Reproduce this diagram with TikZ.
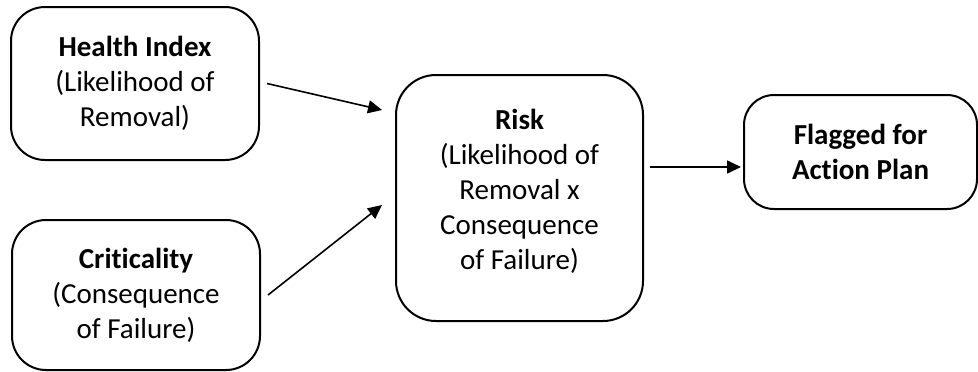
\documentclass[tikz,border=0pt]{standalone}
\usepackage{fontspec}
\setmainfont[Ligatures=NoCommon]{Carlito}
\usetikzlibrary{arrows.meta}

\tikzset{
  box/.style={draw, line width=1pt, rounded corners=17pt, align=center,
    inner sep=0pt, font=\fontsize{14.5}{17.5}\selectfont},
  flow/.style={-{Triangle[length=7pt,width=6.5pt]}, line width=0.8pt}
}

\begin{document}
\begin{tikzpicture}[x=0.5pt, y=-0.5pt]
	\useasboundingbox (0,0) rectangle (978,371);

	% inputs
	\node[box, minimum width=124pt, minimum height=76.5pt] (health) at (135,83.5)
		{\textbf{Health Index}\\(Likelihood of\\Removal)};
	\node[box, minimum width=124pt, minimum height=75pt] (crit) at (136,295)
		{\textbf{Criticality}\\(Consequence\\of Failure)};

	% combined risk
	\node[box, rounded corners=20pt, minimum width=123.5pt, minimum height=123pt] (risk) at (519.5,198)
		{\textbf{Risk}\\(Likelihood of\\Removal x\\Consequence\\of Failure)\\[-9pt]\mbox{}};

	% outcome
	\node[box, rounded corners=15pt, minimum width=116.5pt, minimum height=57pt] (flag) at (860.5,152)
		{\textbf{Flagged for}\\\textbf{Action Plan}};

	\coordinate (hin) at (382,110);
	\coordinate (cin) at (382,205);
	\coordinate (out) at (0,167);

	\draw[flow] ([xshift=3.5pt]health.east) -- (hin);
	\draw[flow] ([xshift=3.5pt]crit.east) -- (cin);
	\draw[flow] ([xshift=3pt]risk.east |- out) -- ([xshift=-1pt]flag.west |- out);
\end{tikzpicture}
\end{document}
